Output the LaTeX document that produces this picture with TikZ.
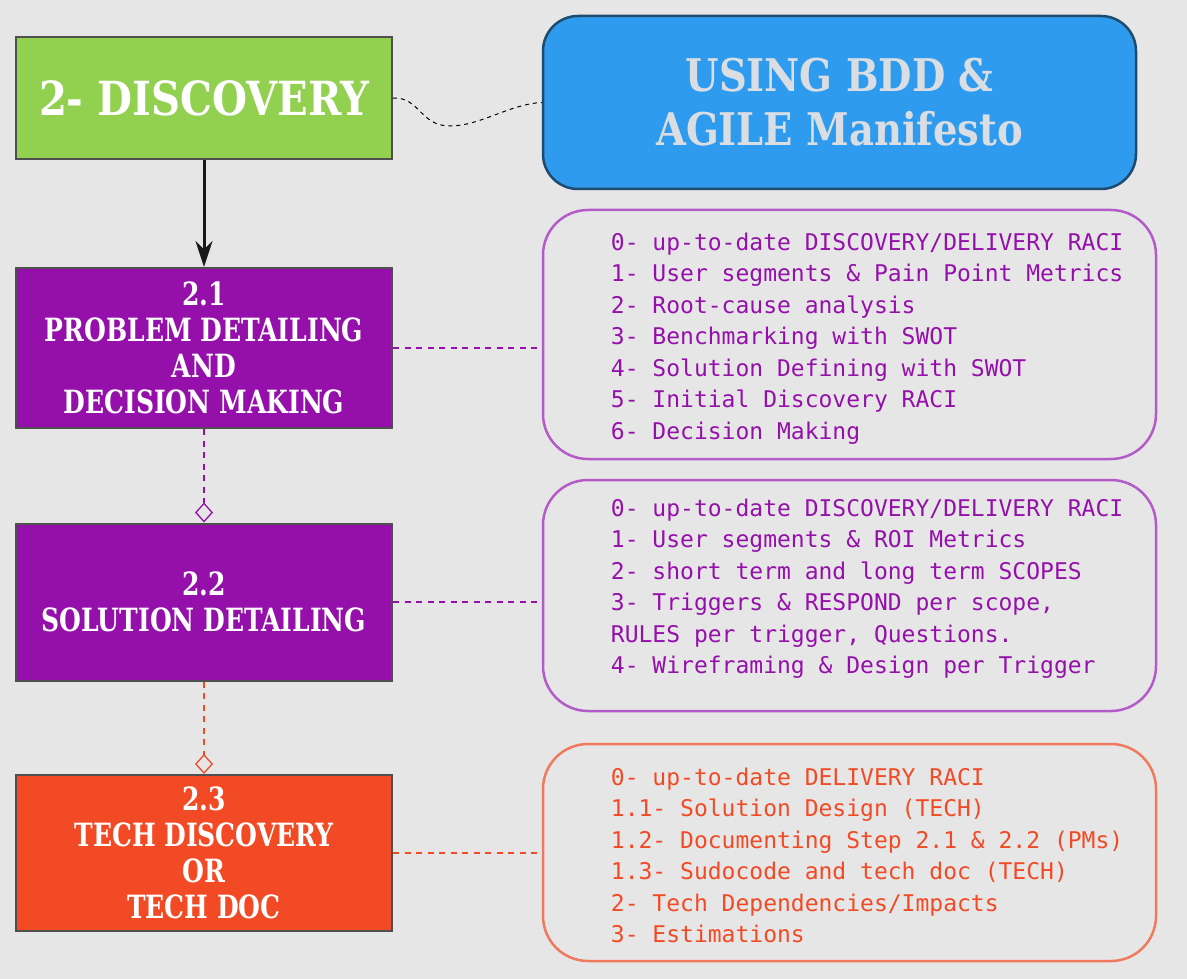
\documentclass[tikz,border=0pt]{standalone}
\usepackage{fontspec}
\usepackage{tikz}
\usetikzlibrary{arrows.meta,positioning}
\newfontfamily\slab[FakeStretch=0.87]{DejaVu Serif Condensed}
\newfontfamily\slabw[FakeStretch=0.95]{DejaVu Serif Condensed}
\setmonofont{DejaVu Sans Mono}
\definecolor{bgc}{HTML}{E6E6E6}
\definecolor{grn}{HTML}{92D050}
\definecolor{purp}{HTML}{9510AB}
\definecolor{orng}{HTML}{F24A25}
\definecolor{blu}{HTML}{2E9BEF}
\definecolor{navy}{HTML}{1F4B6E}
\definecolor{lgray}{HTML}{DADDE2}
\definecolor{stepline}{HTML}{4F4F4F}
\definecolor{purpl}{HTML}{B35BC8}
\definecolor{orngl}{HTML}{F07A60}
\tikzset{
  stepnode/.style = {rectangle, draw=stepline, line width=2pt, align=center,
    text=white, inner sep=0pt, minimum width=376pt,
    font=\slab\bfseries\fontsize{32}{36}\selectfont},
  stp_g/.style = {stepnode, fill=grn, minimum height=122pt,
    font=\slabw\bfseries\fontsize{47}{52}\selectfont},% etape principale
  stp_p/.style = {stepnode, fill=purp},% etape violette
  stp_o/.style = {stepnode, fill=orng},% etape orange
  bdd_b/.style = {rectangle, rounded corners=35pt, draw=navy, fill=blu,
    line width=2.5pt, minimum width=593pt, minimum height=173pt,
    text=lgray, align=center, font=\slabw\bfseries\fontsize{45}{54}\selectfont},
  lst_p/.style = {rectangle, rounded corners=45pt, draw=purpl,
    line width=2.5pt, minimum width=613pt},% liste violette
  lst_o/.style = {lst_p, draw=orngl},% liste orange
  lst_txt/.style = {anchor=west, align=left, inner sep=0pt,
    font=\ttfamily\fontsize{23}{31.5}\selectfont},
  lnk_p/.style = {purp, line width=1.3pt, dash pattern=on 6pt off 5.5pt},
  lnk_o/.style = {lnk_p, orng},
  dmd/.style = {-{Diamond[open, length=20pt, width=18pt]}}
}
\begin{document}
\begin{tikzpicture}[x=1pt, y=-1pt]
\path[use as bounding box, fill=bgc] (0,0) rectangle (1187,979);

\node [stp_g] (dsc) at (204,98) {2- DISCOVERY};
\node [bdd_b] (bdd) at (839.5,102.5) {USING BDD \&\\AGILE Manifesto};

\node [stp_p, minimum height=160pt] (s21) at (204,348)
  {2.1\\PROBLEM DETAILING\\AND\\DECISION MAKING};
\node [stp_p, minimum height=157pt] (s22) at (204,602)
  {2.2\\SOLUTION DETAILING};
\node [stp_o, minimum height=156pt] (s23) at (204,853)
  {2.3\\TECH DISCOVERY\\OR\\TECH DOC};

\node [lst_p, minimum height=249pt] (l21) at (849.5,334.5) {};
\node [lst_p, minimum height=231pt] (l22) at (849.5,595.5) {};
\node [lst_o, minimum height=217pt] (l23) at (849.5,852.5) {};

\node [lst_txt, text=purp] (t21) at ([xshift=69pt, yshift=-4pt]l21.west)
  {0- up-to-date DISCOVERY/DELIVERY RACI\\
   1- User segments \& Pain Point Metrics\\
   2- Root-cause analysis\\
   3- Benchmarking with SWOT\\
   4- Solution Defining with SWOT\\
   5- Initial Discovery RACI\\
   6- Decision Making};
\node [lst_txt, text=purp] (t22) at ([xshift=69pt, yshift=7pt]l22.west)
  {0- up-to-date DISCOVERY/DELIVERY RACI\\
   1- User segments \& ROI Metrics\\
   2- short term and long term SCOPES\\
   3- Triggers \& RESPOND per scope,\\
   RULES per trigger, Questions.\\
   4- Wireframing \& Design per Trigger};
\node [lst_txt, text=orng] (t23) at ([xshift=69pt, yshift=-3pt]l23.west)
  {0- up-to-date DELIVERY RACI\\
   1.1- Solution Design (TECH)\\
   1.2- Documenting Step 2.1 \& 2.2 (PMs)\\
   1.3- Sudocode and tech doc (TECH)\\
   2- Tech Dependencies/Impacts\\
   3- Estimations};

% liens
\draw [black, line width=1pt, dash pattern=on 4pt off 4pt] (dsc.east)
  .. controls (420,97) and (420,126) .. (450,126)
  .. controls (480,126) and (510,104) .. (bdd.west);
\draw [black!90, line width=3pt, -{Stealth[length=26pt, width=17pt]}] (dsc) -- (s21);
\draw [lnk_p] (s21.east) -- (s21.east -| l21.west);
\draw [lnk_p] (s22.east) -- (s22.east -| l22.west);
\draw [lnk_o] (s23.east) -- (s23.east -| l23.west);
\draw [lnk_p, dmd] (s21) -- (s22);
\draw [lnk_o, dmd] (s22) -- (s23);
\end{tikzpicture}
\end{document}
